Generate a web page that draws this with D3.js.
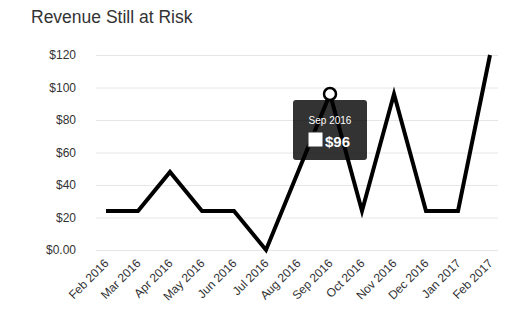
<!DOCTYPE html>
<html>
<head>
<meta charset="utf-8">
<script src="https://cdn.jsdelivr.net/npm/d3@7"></script>
<style>
  html, body { margin: 0; padding: 0; background: #fff; }
  svg { display: block; font-family: "Liberation Sans", Arial, Helvetica, sans-serif; }
</style>
</head>
<body>
<svg id="chart" width="511" height="322"></svg>
<script>
// Monthly revenue still at risk
const months = ["Feb 2016", "Mar 2016", "Apr 2016", "May 2016", "Jun 2016", "Jul 2016",
                "Aug 2016", "Sep 2016", "Oct 2016", "Nov 2016", "Dec 2016", "Jan 2017", "Feb 2017"];
const revenue = [24, 24, 48, 24, 24, 0, 48, 96, 24, 96, 24, 24, 120];
const yTicks = [0, 20, 40, 60, 80, 100, 120];
const highlightIndex = 7;

const svg = d3.select("#chart");

const x = d3.scalePoint().domain(months).range([106, 490]);
const y = d3.scaleLinear().domain([0, 120]).range([250, 55]);

// Title
svg.append("text")
  .attr("x", 31).attr("y", 23)
  .attr("font-size", 17.5)
  .attr("fill", "#333")
  .text("Revenue Still at Risk");

// Horizontal grid + y labels
const yAxis = d3.axisLeft(y)
  .tickValues(yTicks)
  .tickSize(-(498 - 96))
  .tickPadding(20)
  .tickFormat(d => d === 0 ? "$0.00" : "$" + d);
const gy = svg.append("g").attr("transform", "translate(96,0)").call(yAxis);
gy.select(".domain").remove();
gy.selectAll(".tick line").attr("stroke", "#e6e6e6").attr("stroke-width", 1);
gy.selectAll(".tick text").attr("font-size", 12).attr("fill", "#333")
  .attr("font-family", "Liberation Sans, Arial, sans-serif");

// X axis labels (rotated)
const xAxis = d3.axisBottom(x).tickSize(0).tickPadding(0);
const gx = svg.append("g").attr("transform", "translate(0,250)").call(xAxis);
gx.select(".domain").remove();
gx.selectAll(".tick text")
  .attr("font-size", 12).attr("fill", "#333")
  .attr("font-family", "Liberation Sans, Arial, sans-serif")
  .attr("text-anchor", "end")
  .attr("dy", 0)
  .attr("transform", "translate(3,14) rotate(-45)");

// Line
const line = d3.line()
  .x((d, i) => x(months[i]))
  .y(d => y(d));
svg.append("path")
  .datum(revenue)
  .attr("fill", "none")
  .attr("stroke", "#000")
  .attr("stroke-width", 4)
  .attr("stroke-linejoin", "miter")
  .attr("d", line);

// Hovered point marker
const hx = x(months[highlightIndex]), hy = y(revenue[highlightIndex]);
svg.append("circle")
  .attr("cx", hx).attr("cy", hy).attr("r", 6)
  .attr("fill", "#fff").attr("stroke", "#000").attr("stroke-width", 2.5);

// Tooltip
const tip = svg.append("g").attr("transform", `translate(${hx - 37},${hy + 6})`);
tip.append("rect")
  .attr("width", 74).attr("height", 60).attr("rx", 3)
  .attr("fill", "#000").attr("fill-opacity", 0.8);
tip.append("text")
  .attr("x", 37).attr("y", 24)
  .attr("text-anchor", "middle")
  .attr("font-size", 10).attr("fill", "#fff")
  .text(months[highlightIndex]);
tip.append("rect")
  .attr("x", 15).attr("y", 32).attr("width", 15).attr("height", 15)
  .attr("fill", "#fff").attr("stroke", "#333").attr("stroke-width", 1);
tip.append("text")
  .attr("x", 32).attr("y", 47)
  .attr("font-size", 15).attr("font-weight", "bold").attr("fill", "#fff")
  .text("$" + revenue[highlightIndex]);
</script>
</body>
</html>
